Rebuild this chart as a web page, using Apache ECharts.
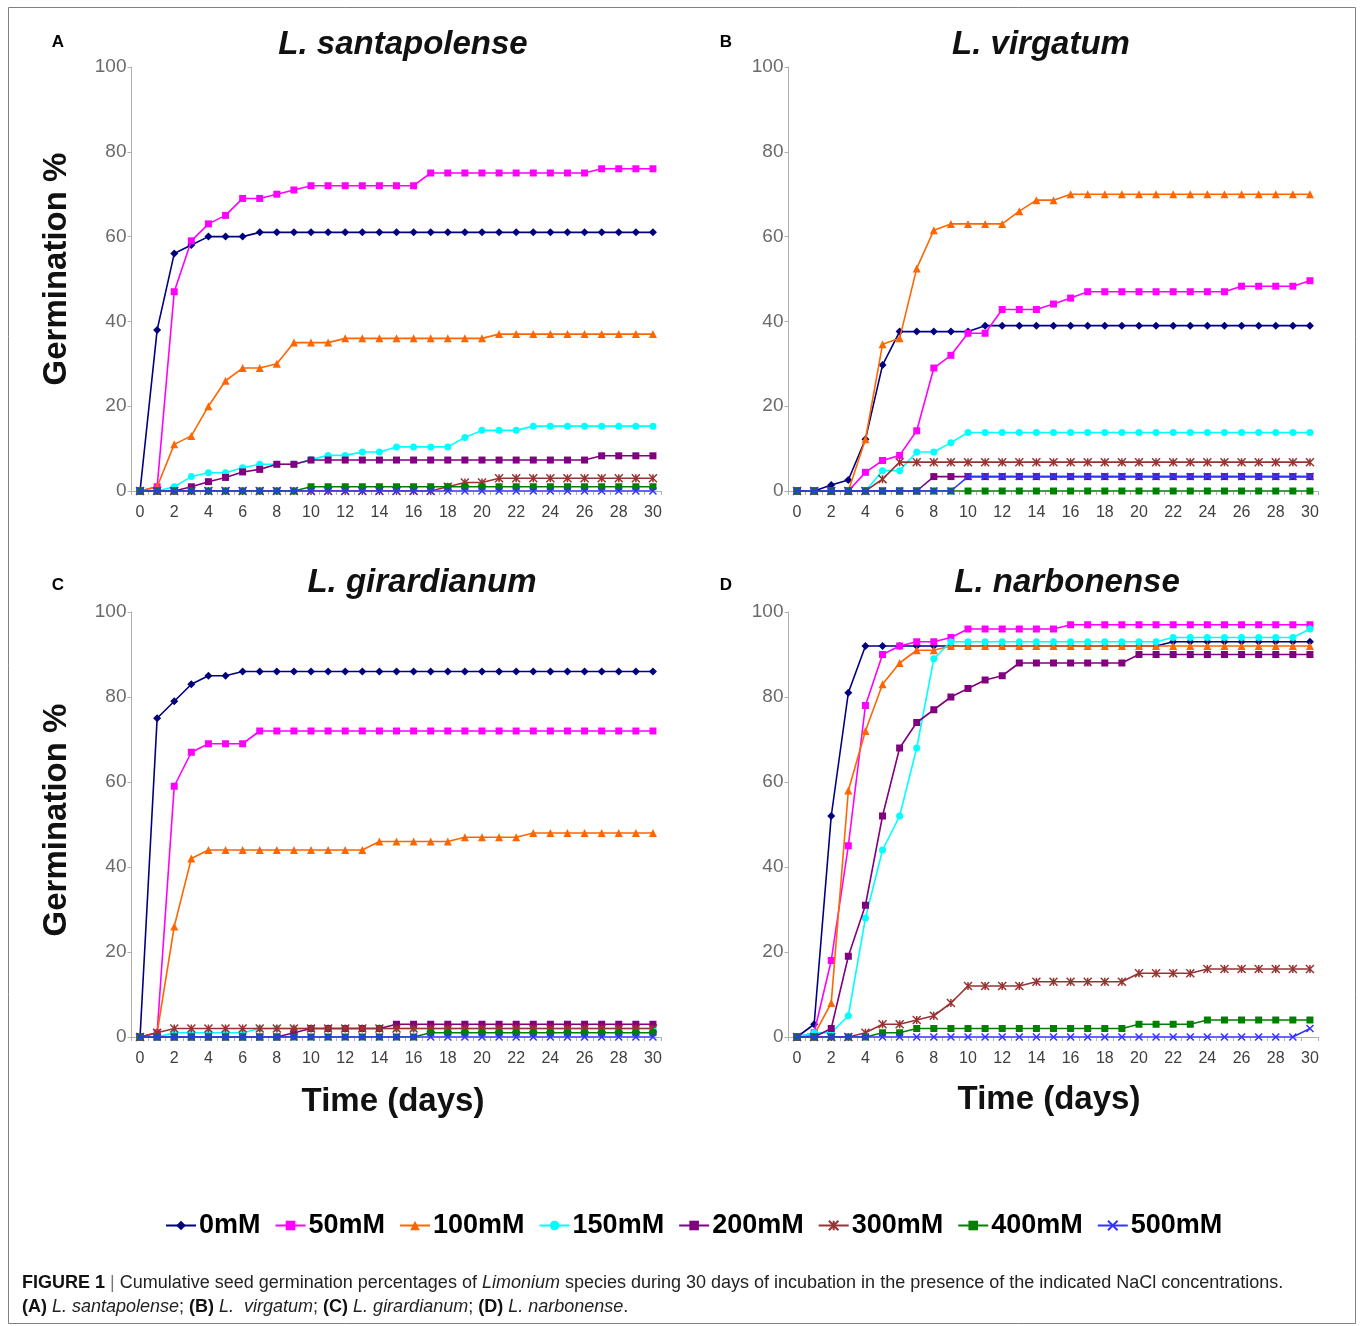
<!DOCTYPE html>
<html>
<head>
<meta charset="utf-8">
<script src="https://cdn.jsdelivr.net/npm/echarts@6/dist/echarts.min.js"></script>
<style>
html,body{margin:0;padding:0;background:#fff;}
#chart{width:1360px;height:1326px;}
</style>
</head>
<body>
<div id="chart"></div>
<script>
// ---------- DATA ----------
const days = ['0','1','2','3','4','5','6','7','8','9','10','11','12','13','14','15','16','17','18','19','20','21','22','23','24','25','26','27','28','29','30'];
const yTicks = [0, 20, 40, 60, 80, 100];
const seriesNames = ['0mM','50mM','100mM','150mM','200mM','300mM','400mM','500mM'];
const panelTitles = ['L. santapolense','L. virgatum','L. girardianum','L. narbonense'];
const panelLetters = ['A','B','C','D'];

// (A) L. santapolense
const santapolense_0mM   = [0,38,56,58,60,60,60,61,61,61,61,61,61,61,61,61,61,61,61,61,61,61,61,61,61,61,61,61,61,61,61];
const santapolense_50mM  = [0,1,47,59,63,65,69,69,70,71,72,72,72,72,72,72,72,75,75,75,75,75,75,75,75,75,75,76,76,76,76];
const santapolense_100mM = [0,1,11,13,20,26,29,29,30,35,35,35,36,36,36,36,36,36,36,36,36,37,37,37,37,37,37,37,37,37,37];
const santapolense_150mM = [0,0,1,3.4,4.3,4.3,5.5,6.3,6.3,6.3,7.4,8.4,8.4,9.2,9.2,10.4,10.4,10.4,10.4,12.6,14.3,14.3,14.3,15.3,15.3,15.3,15.3,15.3,15.3,15.3,15.3];
const santapolense_200mM = [0,0,0,1,2.2,3.2,4.5,5.1,6.3,6.3,7.3,7.3,7.3,7.3,7.3,7.3,7.3,7.3,7.3,7.3,7.3,7.3,7.3,7.3,7.3,7.3,7.3,8.3,8.3,8.3,8.3];
const santapolense_300mM = [0,0,0,0,0,0,0,0,0,0,0,0,0,0,0,0,0,0,1,2,2,3,3,3,3,3,3,3,3,3,3];
const santapolense_400mM = [0,0,0,0,0,0,0,0,0,0,1,1,1,1,1,1,1,1,1,1,1,1,1,1,1,1,1,1,1,1,1];
const santapolense_500mM = [0,0,0,0,0,0,0,0,0,0,0,0,0,0,0,0,0,0,0,0,0,0,0,0,0,0,0,0,0,0,0];

// (B) L. virgatum
const virgatum_0mM   = [0,0,1.4,2.6,12.2,29.7,37.6,37.6,37.6,37.6,37.6,39,39,39,39,39,39,39,39,39,39,39,39,39,39,39,39,39,39,39,39];
const virgatum_50mM  = [0,0,0,0,4.4,7.2,8.4,14.2,29,32,37.2,37.2,42.8,42.8,42.8,44.1,45.5,47,47,47,47,47,47,47,47,47,48.3,48.3,48.3,48.3,49.6];
const virgatum_100mM = [0,0,0,0,12.2,34.6,36,52.5,61.5,63,63,63,63,66,68.6,68.6,70,70,70,70,70,70,70,70,70,70,70,70,70,70,70];
const virgatum_150mM = [0,0,0,0,0,4.8,4.8,9.2,9.2,11.4,13.8,13.8,13.8,13.8,13.8,13.8,13.8,13.8,13.8,13.8,13.8,13.8,13.8,13.8,13.8,13.8,13.8,13.8,13.8,13.8,13.8];
const virgatum_200mM = [0,0,0,0,0,0,0,0,3.4,3.4,3.4,3.4,3.4,3.4,3.4,3.4,3.4,3.4,3.4,3.4,3.4,3.4,3.4,3.4,3.4,3.4,3.4,3.4,3.4,3.4,3.4];
const virgatum_300mM = [0,0,0,0,0,2.8,6.8,6.8,6.8,6.8,6.8,6.8,6.8,6.8,6.8,6.8,6.8,6.8,6.8,6.8,6.8,6.8,6.8,6.8,6.8,6.8,6.8,6.8,6.8,6.8,6.8];
const virgatum_400mM = [0,0,0,0,0,0,0,0,0,0,0,0,0,0,0,0,0,0,0,0,0,0,0,0,0,0,0,0,0,0,0];
const virgatum_500mM = [0,0,0,0,0,0,0,0,0,0,3.4,3.4,3.4,3.4,3.4,3.4,3.4,3.4,3.4,3.4,3.4,3.4,3.4,3.4,3.4,3.4,3.4,3.4,3.4,3.4,3.4];

// (C) L. girardianum
const girardianum_0mM   = [0,75,79,83,85,85,86,86,86,86,86,86,86,86,86,86,86,86,86,86,86,86,86,86,86,86,86,86,86,86,86];
const girardianum_50mM  = [0,1,59,67,69,69,69,72,72,72,72,72,72,72,72,72,72,72,72,72,72,72,72,72,72,72,72,72,72,72,72];
const girardianum_100mM = [0,1,26,42,44,44,44,44,44,44,44,44,44,44,46,46,46,46,46,47,47,47,47,48,48,48,48,48,48,48,48];
const girardianum_150mM = [0,0,1,1,1,1,1,2,2,2,2,2,2,2,2,2,2,2,2,2,2,2,2,2,2,2,2,2,2,2,2];
const girardianum_200mM = [0,0,0,0,0,0,0,0,0,1,2,2,2,2,2,3,3,3,3,3,3,3,3,3,3,3,3,3,3,3,3];
const girardianum_300mM = [0,1,2,2,2,2,2,2,2,2,2,2,2,2,2,2,2,2,2,2,2,2,2,2,2,2,2,2,2,2,2];
const girardianum_400mM = [0,0,0,0,0,0,0,0,0,0,0,0,0,0,0,0,0,1,1,1,1,1,1,1,1,1,1,1,1,1,1];
const girardianum_500mM = [0,0,0,0,0,0,0,0,0,0,0,0,0,0,0,0,0,0,0,0,0,0,0,0,0,0,0,0,0,0,0];

// (D) L. narbonense
const narbonense_0mM   = [0,3,52,81,92,92,92,92,92,92,92,92,92,92,92,92,92,92,92,92,92,92,93,93,93,93,93,93,93,93,93];
const narbonense_50mM  = [0,1,18,45,78,90,92,93,93,94,96,96,96,96,96,96,97,97,97,97,97,97,97,97,97,97,97,97,97,97,97];
const narbonense_100mM = [0,0.5,8,58,72,83,88,91,91,92,92,92,92,92,92,92,92,92,92,92,92,92,92,92,92,92,92,92,92,92,92];
const narbonense_150mM = [0,1,1,5,28,44,52,68,89,93,93,93,93,93,93,93,93,93,93,93,93,93,94,94,94,94,94,94,94,94,96];
const narbonense_200mM = [0,0,2,19,31,52,68,74,77,80,82,84,85,88,88,88,88,88,88,88,90,90,90,90,90,90,90,90,90,90,90];
const narbonense_300mM = [0,0,0,0,1,3,3,4,5,8,12,12,12,12,13,13,13,13,13,13,15,15,15,15,16,16,16,16,16,16,16];
const narbonense_400mM = [0,0,0,0,0,1,1,2,2,2,2,2,2,2,2,2,2,2,2,2,3,3,3,3,4,4,4,4,4,4,4];
const narbonense_500mM = [0,0,0,0,0,0,0,0,0,0,0,0,0,0,0,0,0,0,0,0,0,0,0,0,0,0,0,0,0,0,2];

// ---------- BUILD ----------
const panels = [
  [santapolense_0mM, santapolense_50mM, santapolense_100mM, santapolense_150mM, santapolense_200mM, santapolense_300mM, santapolense_400mM, santapolense_500mM],
  [virgatum_0mM, virgatum_50mM, virgatum_100mM, virgatum_150mM, virgatum_200mM, virgatum_300mM, virgatum_400mM, virgatum_500mM],
  [girardianum_0mM, girardianum_50mM, girardianum_100mM, girardianum_150mM, girardianum_200mM, girardianum_300mM, girardianum_400mM, girardianum_500mM],
  [narbonense_0mM, narbonense_50mM, narbonense_100mM, narbonense_150mM, narbonense_200mM, narbonense_300mM, narbonense_400mM, narbonense_500mM]
];

const styles = [
  {color:'#000080', symbol:'diamond', size:8},
  {color:'#FF00FF', symbol:'rect', size:7},
  {color:'#FF6600', symbol:'triangle', size:8},
  {color:'#00FFFF', symbol:'circle', size:7},
  {color:'#800080', symbol:'rect', size:7},
  {color:'#993333', symbol:'path://M0,0L10,10M10,0L0,10M5,0L5,10', size:8, stroke:true},
  {color:'#008000', symbol:'rect', size:7},
  {color:'#3333FF', symbol:'path://M0,0L10,10M10,0L0,10', size:7, stroke:true}
];

const gridPos = [
  {left:131.5, top:67, width:530, height:424},
  {left:788.5, top:67, width:530, height:424},
  {left:131.5, top:612, width:530, height:425},
  {left:788.5, top:612, width:530, height:425}
];

const FONT = '"Liberation Sans", Arial, sans-serif';

const grids = gridPos.map(g => Object.assign({containLabel:false}, g));
const xAxes = gridPos.map((g,i) => ({
  type:'category', gridIndex:i, data:days, boundaryGap:true,
  axisLine:{show:true, lineStyle:{color:'#b0b0b0', width:1}},
  axisTick:{show:true, interval:0, length:4, lineStyle:{color:'#b0b0b0'}},
  axisLabel:{interval:1, color:'#404040', fontSize:16, fontFamily:FONT, margin:14}
}));
const yAxes = gridPos.map((g,i) => ({
  type:'value', gridIndex:i, min:yTicks[0], max:yTicks[yTicks.length-1], interval:20,
  axisLine:{show:true, lineStyle:{color:'#b0b0b0', width:1}},
  axisTick:{show:true, length:4, lineStyle:{color:'#b0b0b0'}},
  splitLine:{show:false},
  axisLabel:{color:'#6a6a6a', fontSize:19, fontFamily:FONT, margin:5,
    formatter: v => yTicks.indexOf(v) >= 0 ? String(v) : ''}
}));

const series = [];
panels.forEach((panel, p) => {
  panel.forEach((vals, s) => {
    const st = styles[s];
    series.push({
      type:'line', name:seriesNames[s], xAxisIndex:p, yAxisIndex:p,
      data:vals, symbol:st.symbol, symbolSize:st.size, showSymbol:true,
      lineStyle:{color:st.color, width:1.6},
      itemStyle: st.stroke ? {color:st.color, borderColor:st.color, borderWidth:1.5} : {color:st.color, borderWidth:0},
      emphasis:{disabled:true}, z: 2 + s
    });
  });
});

const graphics = [
  {type:'rect', shape:{x:8.5, y:7.5, width:1347, height:1316}, style:{fill:null, stroke:'#808080', lineWidth:1}, silent:true}
];
const letterPos = [[58,42],[726,42],[58,585],[726,585]];
letterPos.forEach((pos,i)=>graphics.push({type:'text', x:pos[0], y:pos[1],
  style:{text:panelLetters[i], font:'bold 17px ' + FONT, fill:'#000', textAlign:'center', textVerticalAlign:'middle'}}));
const titlePos = [[403,45],[1041,45],[422,583],[1067,583]];
titlePos.forEach((pos,i)=>graphics.push({type:'text', x:pos[0], y:pos[1],
  style:{text:panelTitles[i], font:'italic bold 33px ' + FONT, fill:'#111', textAlign:'center', textVerticalAlign:'middle'}}));
[[57,269],[57,820]].forEach(pos=>graphics.push({type:'text', x:pos[0], y:pos[1], rotation:Math.PI/2,
  style:{text:'Germination %', font:'bold 33px ' + FONT, fill:'#111', textAlign:'center', textVerticalAlign:'middle'}}));
[[393,1102],[1049,1100]].forEach(pos=>graphics.push({type:'text', x:pos[0], y:pos[1],
  style:{text:'Time (days)', font:'bold 33px ' + FONT, fill:'#111', textAlign:'center', textVerticalAlign:'middle'}}));
graphics.push({type:'text', x:22, y:1283, style:{
  text:'{b|FIGURE 1} {s||} Cumulative seed germination percentages of {i|Limonium} species during 30 days of incubation in the presence of the indicated NaCl concentrations.',
  font:'18px ' + FONT, fill:'#222', textVerticalAlign:'middle',
  rich:{b:{font:'bold 18px ' + FONT, fill:'#111'}, s:{font:'18px ' + FONT, fill:'#777'}, i:{font:'italic 18px ' + FONT, fill:'#222'}}
}});
graphics.push({type:'text', x:22, y:1307, style:{
  text:'{b|(A)} {i|L. santapolense}; {b|(B)} {i|L.  virgatum}; {b|(C)} {i|L. girardianum}; {b|(D)} {i|L. narbonense}.',
  font:'18px ' + FONT, fill:'#222', textVerticalAlign:'middle',
  rich:{b:{font:'bold 18px ' + FONT, fill:'#111'}, i:{font:'italic 18px ' + FONT, fill:'#222'}}
}});

const chart = echarts.init(document.getElementById('chart'), null, {renderer:'canvas'});
chart.setOption({
  animation:false,
  backgroundColor:'#ffffff',
  grid:grids, xAxis:xAxes, yAxis:yAxes, series:series,
  legend:{
    data:seriesNames, left:165, top:1212, padding:0, itemWidth:30, itemHeight:12, itemGap:14,
    textStyle:{fontSize:27, fontWeight:'bold', color:'#000', fontFamily:FONT, padding:[0,0,0,-2]},
    selectedMode:false
  },
  graphic:graphics
});
</script>
</body>
</html>
